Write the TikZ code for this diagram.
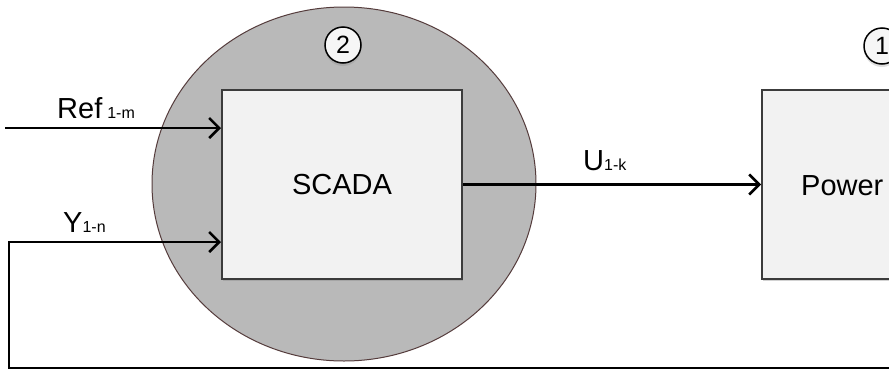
\documentclass[tikz,border=0pt]{standalone}
\usepackage{fontspec}
\setmainfont{Liberation Sans}
\usetikzlibrary{arrows.meta,shadows,shapes.geometric}
\definecolor{ellfill}{RGB}{185,185,185}
\definecolor{elldraw}{RGB}{85,60,60}
\definecolor{boxfill}{RGB}{242,242,242}
\definecolor{boxdraw}{RGB}{60,60,60}
\definecolor{numfill}{RGB}{246,246,246}
\newcommand\subsz{\fontsize{16}{19}\selectfont}
\begin{document}
\begin{tikzpicture}[x=1pt,y=-1pt,
 zone/.style={ellipse, draw=elldraw, line width=1pt, fill=ellfill, inner sep=0pt},
 blockbox/.style={draw=boxdraw, line width=2pt, fill=boxfill, minimum width=240pt, minimum height=189pt, inner sep=0pt, font=\fontsize{29}{34}\selectfont, drop shadow={shadow xshift=0.8pt, shadow yshift=-1.8pt, opacity=0.35}},
 numcirc/.style={circle, draw=black, line width=1.5pt, fill=numfill, minimum size=36pt, inner sep=0pt, font=\fontsize{25}{30}\selectfont, drop shadow={shadow xshift=0pt, shadow yshift=-3pt, opacity=0.25}},
 conn/.style={line width=2.5pt, -{Straight Barb[length=10pt,width=20pt]}},
 lbl/.style={inner sep=0pt, anchor=base west, font=\fontsize{29}{34}\selectfont},
]
\useasboundingbox (0,0) rectangle (889,370);
\clip (0,0) rectangle (889,370);
\fill[white] (0,0) rectangle (889,370);
% zone of SCADA
\node[zone, minimum width=384pt, minimum height=354pt] (zone) at (344,184) {};
% blocks
\node[blockbox] (scada) at (342,184.5) {SCADA};
\node[blockbox] (power) at (882,184.5) {};
\node[lbl] (powerl) at (801,195) {Power};
% numbers
\node[numcirc] (n2) at (343,45) {2};
\node[numcirc] (n1) at (882,46) {1};
% connectors
\coordinate (refin) at (5,128);
\coordinate (fbl) at (9,242);
\coordinate (fbr) at (1010,368);
\draw[conn] (refin) -- (scada.west |- refin);
\draw[conn] (fbr) -| (fbl) -- (scada.west |- fbl);
\draw[conn] (scada.east) -- (power.west);
% labels
\node[lbl] (refl) at (57,118) {Ref\hspace{5pt}{\subsz 1-m}};
\node[lbl] (yl) at (63,232) {Y{\subsz 1-n}};
\node[lbl] (ul) at (583,170) {U{\subsz 1-k}};
\end{tikzpicture}
\end{document}
